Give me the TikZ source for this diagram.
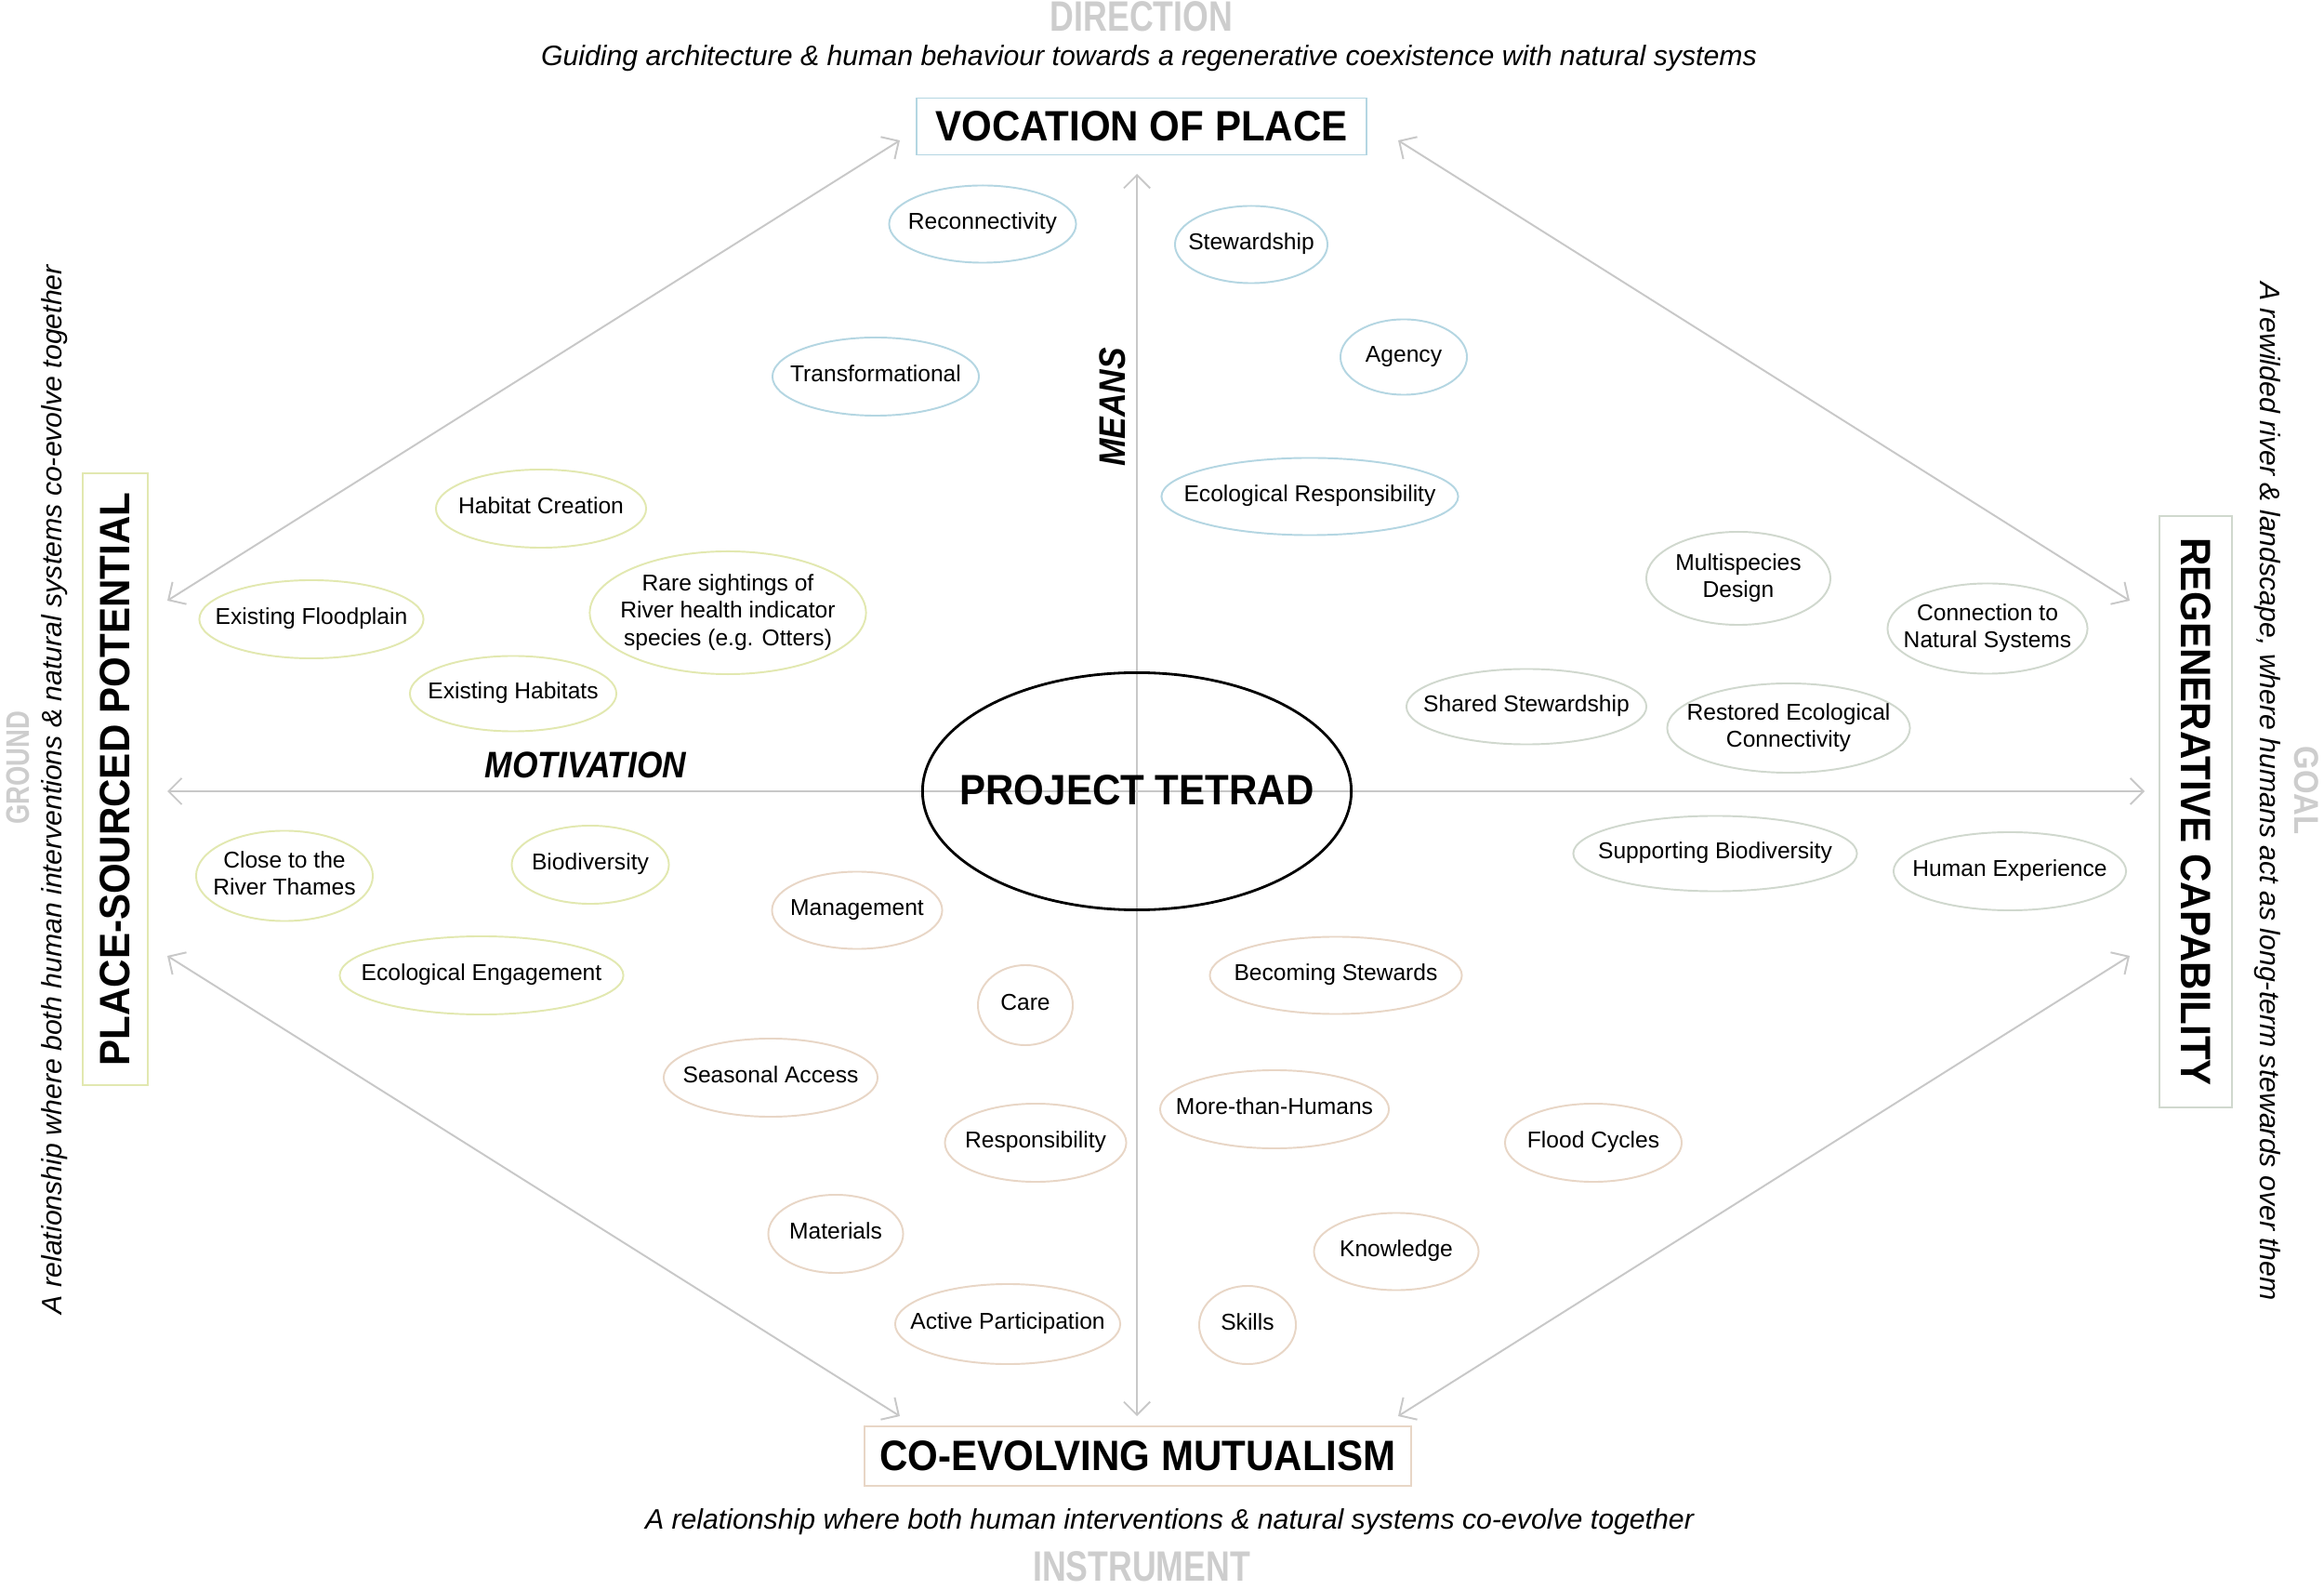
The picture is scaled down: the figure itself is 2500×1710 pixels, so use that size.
\documentclass[tikz,border=0pt]{standalone}
\usepackage{fontspec}
\setmainfont{Liberation Sans}
\newfontfamily\titlefont{Liberation Sans}[FakeStretch=0.92]
\newfontfamily\greyfont{Liberation Sans}[FakeStretch=0.78]
\newfontfamily\axisfont{Liberation Sans}[FakeStretch=0.89]
\usetikzlibrary{shapes.geometric,arrows.meta}
\definecolor{axisgrey}{HTML}{C8C8C8}
\definecolor{blueb}{HTML}{B4D6E2}
\definecolor{yellowb}{HTML}{E2E8B0}
\definecolor{beigeb}{HTML}{E8D6C6}
\definecolor{greyb}{HTML}{D0D8CE}
\definecolor{labelgrey}{HTML}{CDCDCD}
% zero-width label so that the ellipse takes exactly its minimum size
\newcommand\zw[1]{\makebox[0pt]{\raisebox{-0.8pt}{\begin{tabular}{@{}c@{}}#1\end{tabular}}}}
\begin{document}
\begin{tikzpicture}[x=0.01cm,y=-0.01cm,
  bub/.style={ellipse, draw, line width=0.55pt, inner sep=0pt,
    font=\fontsize{7}{8.3}\selectfont},
  topb/.style={bub, draw=blueb},
  leftb/.style={bub, draw=yellowb},
  botb/.style={bub, draw=beigeb},
  rightb/.style={bub, draw=greyb},
  titlebox/.style={draw, line width=0.55pt, inner sep=0pt,
    font=\titlefont\bfseries\fontsize{13}{15}\selectfont},
  greylabel/.style={text=labelgrey, inner sep=0pt, font=\greyfont\bfseries\fontsize{13}{15}\selectfont},
  sidelabel/.style={inner sep=0pt, font=\itshape\fontsize{8.6}{10}\selectfont},
  axislabel/.style={inner sep=0pt, font=\axisfont\bfseries\itshape\fontsize{11.3}{13}\selectfont},
  axisline/.style={draw=axisgrey, line width=0.55pt,
    {Straight Barb[length=4pt,width=8pt]}-{Straight Barb[length=4pt,width=8pt]}},
]
\useasboundingbox (0,0) rectangle (2500,1710);
\fill[white] (0,0) rectangle (2500,1710);

% ---- connector end points
\coordinate (vtop) at (1223,187);
\coordinate (vbot) at (1223,1523);
\coordinate (hleft) at (180,851);
\coordinate (hright) at (2307,851);
\coordinate (tlA) at (180,646);
\coordinate (tlB) at (968,151);
\coordinate (trA) at (1504,151);
\coordinate (trB) at (2291,646);
\coordinate (blA) at (180,1028);
\coordinate (blB) at (968,1523);
\coordinate (brA) at (1504,1523);
\coordinate (brB) at (2291,1028);

\draw[axisline] (vtop) -- (vbot);
\draw[axisline] (hleft) -- (hright);
\draw[axisline] (tlA) -- (tlB);
\draw[axisline] (trA) -- (trB);
\draw[axisline] (blA) -- (blB);
\draw[axisline] (brA) -- (brB);

% ---- top / bottom headings
\node[greylabel, anchor=base] (dir) at (1228,34) {DIRECTION};
\node[sidelabel, anchor=base] (dirtxt) at (1236,71) {Guiding architecture \& human behaviour towards a regenerative coexistence with natural systems};
\node[titlebox, draw=blueb, minimum width=4.83cm, minimum height=0.61cm] (vop) at (1228,136) {VOCATION OF PLACE};

\node[titlebox, draw=beigeb, minimum width=5.88cm, minimum height=0.64cm] (cem) at (1224,1566) {CO-EVOLVING MUTUALISM};
\node[sidelabel, anchor=base] (insttxt) at (1258,1644) {A relationship where both human interventions \& natural systems co-evolve together};
\node[greylabel, anchor=base] (inst) at (1228,1700) {INSTRUMENT};

% ---- left / right headings
\node[greylabel, rotate=90, font=\greyfont\bfseries\fontsize{10}{12}\selectfont] (grd) at (19,826) {GROUND};
\node[sidelabel, rotate=90] (grdtxt) at (59,849) {A relationship where both human interventions \& natural systems co-evolve together};
\node[titlebox, draw=yellowb, rotate=90, minimum width=6.58cm, minimum height=0.70cm] (psp) at (124,838) {PLACE-SOURCED POTENTIAL};

\node[greylabel, rotate=-90, font=\axisfont\bfseries\fontsize{10.5}{12}\selectfont] (goal) at (2481,850) {GOAL};
\node[sidelabel, rotate=-90] (goaltxt) at (2439,851) {A rewilded river \& landscape, where humans act as long-term stewards over them};
\node[titlebox, draw=greyb, rotate=-90, minimum width=6.35cm, minimum height=0.78cm] (rc) at (2362,873) {REGENERATIVE CAPABILITY};

% ---- centre
\node[ellipse, draw=black, line width=0.8pt, inner sep=0pt, minimum width=4.61cm, minimum height=2.55cm,
  font=\titlefont\bfseries\fontsize{13}{15}\selectfont] (tetrad) at (1223,851) {\makebox[0pt]{\raisebox{1pt}{PROJECT TETRAD}}};
\node[axislabel, rotate=90] (means) at (1197,438) {MEANS};
\node[axislabel] (motiv) at (630,823) {MOTIVATION};

% ---- top (vocation) bubbles
\node[topb, minimum width=2.01cm, minimum height=0.83cm] (recon) at (1057,241) {\zw{Reconnectivity}};
\node[topb, minimum width=1.64cm, minimum height=0.83cm] (stew) at (1346,263) {\zw{Stewardship}};
\node[topb, minimum width=2.22cm, minimum height=0.84cm] (trans) at (942,405) {\zw{Transformational}};
\node[topb, minimum width=1.36cm, minimum height=0.81cm] (agency) at (1510,384) {\zw{Agency}};
\node[topb, minimum width=3.19cm, minimum height=0.83cm] (ecoresp) at (1409,534) {\zw{Ecological Responsibility}};

% ---- left (place-sourced) bubbles
\node[leftb, minimum width=2.26cm, minimum height=0.84cm] (habcr) at (582,547) {\zw{Habitat Creation}};
\node[leftb, minimum width=2.41cm, minimum height=0.84cm] (flood) at (335,666) {\zw{Existing Floodplain}};
\node[leftb, minimum width=2.97cm, minimum height=1.32cm] (rare) at (783,659) {\zw{Rare sightings of\\River health indicator\\species (e.g. Otters)}};
\node[leftb, minimum width=2.22cm, minimum height=0.81cm] (exhab) at (552,746) {\zw{Existing Habitats}};
\node[leftb, minimum width=1.90cm, minimum height=0.97cm] (thames) at (306,942) {\zw{Close to the\\River Thames}};
\node[leftb, minimum width=1.69cm, minimum height=0.84cm] (biod) at (635,930) {\zw{Biodiversity}};
\node[leftb, minimum width=3.05cm, minimum height=0.84cm] (ecoeng) at (518,1049) {\zw{Ecological Engagement}};

% ---- bottom (mutualism) bubbles
\node[botb, minimum width=1.83cm, minimum height=0.83cm] (mgmt) at (922,979) {\zw{Management}};
\node[botb, minimum width=1.02cm, minimum height=0.86cm] (care) at (1103,1081) {\zw{Care}};
\node[botb, minimum width=2.30cm, minimum height=0.84cm] (seas) at (829,1159) {\zw{Seasonal Access}};
\node[botb, minimum width=1.95cm, minimum height=0.84cm] (resp) at (1114,1229) {\zw{Responsibility}};
\node[botb, minimum width=1.45cm, minimum height=0.84cm] (mat) at (899,1327) {\zw{Materials}};
\node[botb, minimum width=2.42cm, minimum height=0.86cm] (actp) at (1084,1424) {\zw{Active Participation}};
\node[botb, minimum width=2.71cm, minimum height=0.83cm] (becst) at (1437,1049) {\zw{Becoming Stewards}};
\node[botb, minimum width=2.46cm, minimum height=0.84cm] (mth) at (1371,1193) {\zw{More-than-Humans}};
\node[botb, minimum width=1.90cm, minimum height=0.84cm] (fcyc) at (1714,1229) {\zw{Flood Cycles}};
\node[botb, minimum width=1.77cm, minimum height=0.83cm] (know) at (1502,1346) {\zw{Knowledge}};
\node[botb, minimum width=1.04cm, minimum height=0.84cm] (skill) at (1342,1425) {\zw{Skills}};

% ---- right (regenerative) bubbles
\node[rightb, minimum width=1.98cm, minimum height=1.00cm] (multi) at (1870,622) {\zw{Multispecies\\Design}};
\node[rightb, minimum width=2.15cm, minimum height=0.97cm] (connat) at (2138,676) {\zw{Connection to\\Natural Systems}};
\node[rightb, minimum width=2.58cm, minimum height=0.81cm] (shst) at (1642,760) {\zw{Shared Stewardship}};
\node[rightb, minimum width=2.61cm, minimum height=0.96cm] (restec) at (1924,783) {\zw{Restored Ecological\\Connectivity}};
\node[rightb, minimum width=3.05cm, minimum height=0.81cm] (suppb) at (1845,918) {\zw{Supporting Biodiversity}};
\node[rightb, minimum width=2.50cm, minimum height=0.84cm] (humex) at (2162,937) {\zw{Human Experience}};
\end{tikzpicture}
\end{document}
